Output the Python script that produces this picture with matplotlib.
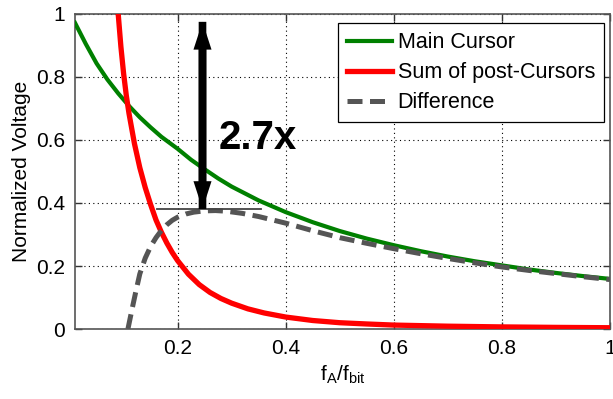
import matplotlib
matplotlib.use("Agg")
import matplotlib.pyplot as plt
from matplotlib.patches import FancyArrowPatch
from matplotlib.ticker import FormatStrFormatter

plt.rcParams['font.family'] = ['Liberation Sans', 'DejaVu Sans']
plt.rcParams['font.size'] = 15
plt.rcParams['mathtext.fontset'] = 'custom'
plt.rcParams['mathtext.rm'] = 'Liberation Sans'

# ---- data ----
main_x = [0.01, 0.03, 0.05, 0.07, 0.09, 0.11, 0.13, 0.15, 0.17, 0.2, 0.225, 0.25, 0.275, 0.3,
          0.35, 0.4, 0.45, 0.5, 0.55, 0.6, 0.65, 0.7, 0.75, 0.8, 0.85, 0.9, 0.95, 1.0]
main_y = [0.972, 0.905, 0.843, 0.792, 0.748, 0.708, 0.672, 0.640, 0.610, 0.572, 0.537, 0.507,
          0.478, 0.452, 0.408, 0.371, 0.339, 0.311, 0.287, 0.266, 0.247, 0.230, 0.215, 0.202,
          0.189, 0.178, 0.168, 0.159]

post_x = [0.09, 0.095, 0.10, 0.105, 0.11, 0.12, 0.13, 0.14, 0.15, 0.16, 0.17, 0.18, 0.19, 0.2,
          0.22, 0.24, 0.26, 0.28, 0.3, 0.33, 0.36, 0.4, 0.45, 0.5, 0.55, 0.6, 0.7, 0.8, 0.9, 1.0]
post_y = [1.0, 0.896, 0.811, 0.741, 0.684, 0.589, 0.512, 0.449, 0.395, 0.346, 0.307, 0.273,
          0.243, 0.217, 0.174, 0.141, 0.116, 0.097, 0.082, 0.064, 0.051, 0.038, 0.027, 0.020,
          0.016, 0.0125, 0.009, 0.0067, 0.0052, 0.0041]

diff_x = [0.108, 0.115, 0.122, 0.13, 0.14, 0.15, 0.16, 0.17, 0.18, 0.19, 0.2, 0.215, 0.23, 0.25,
          0.27, 0.29, 0.32, 0.35, 0.4, 0.45, 0.5, 0.55, 0.6, 0.65, 0.7, 0.75, 0.8, 0.85, 0.9,
          0.95, 1.0]
diff_y = [0.0, 0.058, 0.114, 0.175, 0.225, 0.262, 0.290, 0.313, 0.331, 0.345, 0.355, 0.365,
          0.371, 0.375, 0.376, 0.374, 0.367, 0.357, 0.336, 0.312, 0.290, 0.272, 0.255, 0.239,
          0.224, 0.210, 0.197, 0.186, 0.176, 0.166, 0.157]

labels = ['Main Cursor', 'Sum of post-Cursors', 'Difference']
x_ticks = [0.2, 0.4, 0.6, 0.8, 1.0]
y_ticks = [0, 0.2, 0.4, 0.6, 0.8, 1.0]

# annotation values
arrow_x = 0.246
arrow_top = 0.975
arrow_bottom = 0.381
peak_level = 0.381
peak_line_x = [0.161, 0.355]
ratio_text = '2.7x'

fig = plt.figure(figsize=(6.13, 3.99), dpi=100)
ax = fig.add_axes([0.1223, 0.1754, 0.8727, 0.7896])

ax.plot(main_x, main_y, color='#008000', lw=3.0, label=labels[0], zorder=3)
ax.plot(post_x, post_y, color='#ff0000', lw=3.8, label=labels[1], zorder=4)
ax.plot(diff_x, diff_y, color='#555555', lw=3.6, ls=(0, (3.0, 1.5)), label=labels[2], zorder=5)

ax.set_xlim(0.01, 1.0)
ax.set_ylim(0, 1.0)
ax.set_xticks(x_ticks)
ax.set_yticks(y_ticks)
ax.xaxis.set_major_formatter(FormatStrFormatter('%g'))
ax.yaxis.set_major_formatter(FormatStrFormatter('%g'))
ax.tick_params(direction='in', length=5, width=1, top=True, right=True, pad=7, colors='#333333',
               labelcolor='black')
ax.grid(True, color='black', ls=(0, (1, 3)), lw=0.8)
for s in ax.spines.values():
    s.set_color('#555555')
    s.set_linewidth(1.2)

ax.set_xlabel(r'f$_\mathregular{A}$/f$_\mathregular{bit}$', labelpad=4)
ax.set_ylabel('Normalized Voltage', labelpad=4)

# peak level line
ax.plot(peak_line_x, [peak_level, peak_level], color='#444444', lw=1.3, zorder=6)

# double arrow (two full-length single arrows overlaid)
for start, end in ((arrow_bottom, arrow_top), (arrow_top, arrow_bottom)):
    a = FancyArrowPatch((arrow_x, start), (arrow_x, end),
                        arrowstyle='simple,head_length=20,head_width=13,tail_width=5.5',
                        mutation_scale=1, color='black', lw=0, zorder=7,
                        shrinkA=0, shrinkB=0)
    ax.add_patch(a)

ax.text(0.275, 0.606, ratio_text, fontsize=29, fontweight='bold', ha='left', va='center',
        zorder=7)

leg = ax.legend(loc='upper right', bbox_to_anchor=(0.989, 0.971), borderaxespad=0,
                fancybox=False, framealpha=1, edgecolor='black', fontsize=15.5,
                handlelength=2.1, handletextpad=0.25, labelspacing=0.42, borderpad=0.42)
leg.get_frame().set_linewidth(0.9)

fig.savefig('out.png', dpi=100)
